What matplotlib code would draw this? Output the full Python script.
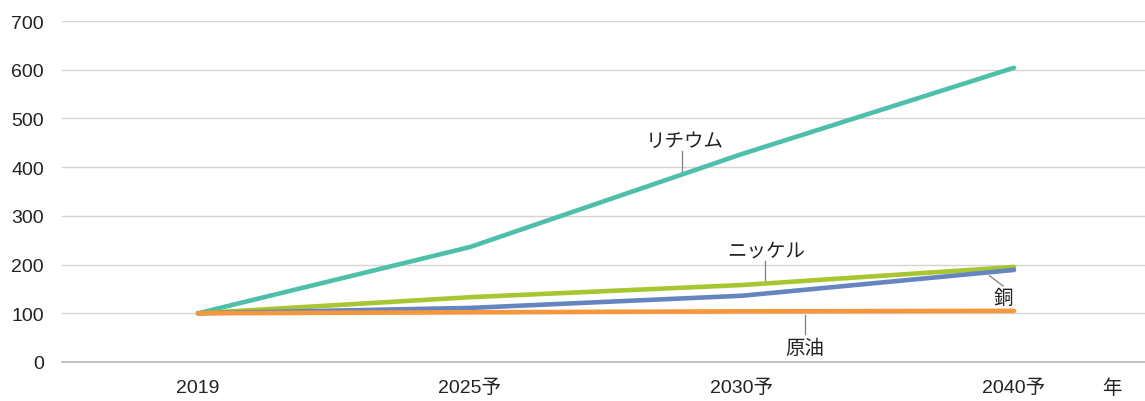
import matplotlib
matplotlib.use("Agg")
import matplotlib.pyplot as plt

plt.rcParams['font.family'] = ['Liberation Sans', 'Noto Sans CJK JP', 'DejaVu Sans']

categories = ["2019", "2025予", "2030予", "2040予"]
lithium = [100, 236, 427, 604]
nickel = [100, 133, 158, 195]
copper = [100, 111, 136, 189]
crude_oil = [100, 102, 104, 105]

series = [
    ("リチウム", lithium, "#4DBFAA"),
    ("ニッケル", nickel, "#A8C62F"),
    ("銅", copper, "#6585C0"),
    ("原油", crude_oil, "#F7963A"),
]

fig = plt.figure(figsize=(11.45, 4.02), dpi=100)
ax = fig.add_axes([62/1145, 39/402, (1150 - 62)/1145, (363-22)/402])

x = list(range(len(categories)))
for i, (name, vals, col) in enumerate(series):
    ax.plot(x, vals, color=col, lw=3.3, solid_capstyle='round', zorder=3 + i)

ax.set_xlim(-0.5, 3.5)
ax.set_ylim(0, 700)
ax.set_yticks(range(0, 701, 100))
ax.set_xticks(x)
ax.set_xticklabels(categories)
ax.grid(axis='y', color='#d4d4d4', lw=1.0, zorder=0)
ax.set_axisbelow(True)
for s in ['top', 'right', 'left']:
    ax.spines[s].set_visible(False)
ax.spines['bottom'].set_color('#bdbdbd')
ax.spines['bottom'].set_linewidth(1.3)
ax.tick_params(axis='both', length=0, labelsize=14, colors='#222222')
ax.tick_params(axis='y', pad=13)
ax.tick_params(axis='x', pad=12)

fig.text(1112/1145, 1 - 389/402, "年", fontsize=14, color='#222222', ha='center', va='center')

lc = '#7f7f7f'
labels = [
    ("リチウム", (1.79, 452), [(1.78, 433), (1.78, 390)]),
    ("ニッケル", (2.09, 228), [(2.085, 207), (2.085, 163)]),
    ("銅", (2.96, 132), [(2.91, 177), (2.96, 156)]),
    ("原油", (2.23, 29), [(2.23, 96), (2.23, 57)]),
]
for txt, (tx, ty), pts in labels:
    ax.text(tx, ty, txt, fontsize=14, color='#222222', ha='center', va='center', zorder=10)
    ax.plot([p[0] for p in pts], [p[1] for p in pts], color=lc, lw=0.9, zorder=2.5)

fig.savefig("out.png", dpi=100)
